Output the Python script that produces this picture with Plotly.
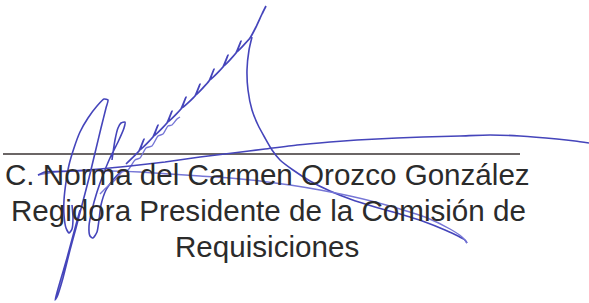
import plotly.graph_objects as go

# ---- data (pixel-space coordinates) ----
caption_lines = [
    "C. Norma del Carmen Orozco González",
    "Regidora Presidente de la Comisión de",
    "Requisiciones",
]
caption_y = [174.5, 210.0, 246.0]
caption_x = [267.0, 268.5, 266.5]

rule_x = [3, 520]
rule_y = [154, 154]

# big left loop with long descender
loop1_x = [80, 74, 67, 60, 55, 57, 63, 70, 76, 82, 89, 95, 101, 106, 108, 104, 97, 88, 80, 74, 69, 66, 64, 64, 66, 69, 72, 73, 72]
loop1_y = [210, 232, 258, 282, 300, 297, 278, 250, 228, 205, 178, 153, 128, 108, 100, 99, 106, 118, 132, 148, 165, 182, 200, 215, 228, 233, 229, 218, 205]

# second tall loop
loop2_x = [112, 115, 118, 121, 125, 124, 118, 110, 103, 97, 92, 89, 90, 93, 97, 99, 101, 106, 113, 122]
loop2_y = [160, 140, 128, 123, 122, 128, 142, 158, 175, 192, 210, 226, 236, 238, 232, 220, 205, 190, 180, 170]

# lower parallel stroke through the "ma" letters
ma_x = [100, 108, 115, 122, 128, 135, 140, 146, 152, 158, 163, 168, 172, 177, 180]
ma_y = [194, 186, 180, 172, 170, 160, 158, 148, 146, 136, 134, 126, 125, 119, 117]

# zig-zag diagonal stroke (compressed "uuuu")
zig_x = [266, 262, 256, 250,
         237, 241, 236, 224, 228, 223, 210, 214, 209, 196, 200, 195,
         182, 186, 181, 168, 172, 167, 154, 158, 153, 140, 144, 139, 126]
zig_y = [6, 14, 27, 38,
         52, 41, 53, 66, 55, 67, 80, 69, 81, 95, 84, 96,
         108, 97, 109, 122, 111, 123, 136, 125, 137, 150, 139, 151, 164]

# long sweeping curve down to the right
sweep_x = [252, 249, 247, 248, 252, 258, 265, 272, 280, 293, 310, 330, 350, 375, 400, 425, 445, 458, 465, 467]
sweep_y = [37, 50, 70, 90, 110, 125, 138, 150, 160, 170, 181, 191, 199, 207, 214, 222, 230, 236, 240, 243]

# lighter return branch back to the left
back_x = [467, 462, 450, 425, 400, 375, 350, 320, 290, 260, 230, 200, 170, 140, 110, 80, 55, 38]
back_y = [243, 237, 229, 217, 209, 202, 196, 190, 185, 181, 178, 176, 174, 172, 171, 171, 172, 175]

# long upper stroke to the right edge
upper_x = [38, 45, 70, 100, 130, 165, 200, 233, 265, 297, 330, 357, 397, 423, 460, 490, 520, 557, 575, 589]
upper_y = [175, 172, 171, 169, 166, 162, 157, 153, 149, 145, 142, 140, 138, 137, 136, 135, 136, 139, 141, 143]

ink_dark = "#4545bb"
ink_light = "#7676d6"

fig = go.Figure()

fig.add_trace(go.Scatter(x=rule_x, y=rule_y, mode="lines",
                         line=dict(color="#3a3333", width=1.6), hoverinfo="skip"))

for xs, ys, col, w, sm in [
    (loop1_x, loop1_y, ink_dark, 1.6, 0.6),
    (loop2_x, loop2_y, ink_dark, 1.6, 0.6),
    (ma_x, ma_y, ink_light, 1.4, 0.5),
    (zig_x, zig_y, ink_dark, 1.7, 0.3),
    (sweep_x, sweep_y, ink_dark, 1.6, 0.6),
    (back_x, back_y, ink_light, 1.4, 0.6),
    (upper_x, upper_y, ink_dark, 1.6, 0.6),
]:
    fig.add_trace(go.Scatter(x=xs, y=ys, mode="lines",
                             line=dict(color=col, width=w, shape="spline", smoothing=sm),
                             hoverinfo="skip"))

for txt, tx, ty in zip(caption_lines, caption_x, caption_y):
    fig.add_annotation(x=tx, y=ty, text=txt, showarrow=False,
                       xanchor="center", yanchor="middle",
                       font=dict(family="Liberation Sans, Arial, sans-serif",
                                 size=29.6, color="#2b2b2b"))

fig.update_layout(
    width=589, height=303,
    margin=dict(l=0, r=0, t=0, b=0),
    paper_bgcolor="white", plot_bgcolor="white",
    showlegend=False,
    xaxis=dict(range=[0, 589], visible=False, fixedrange=True),
    yaxis=dict(range=[303, 0], visible=False, fixedrange=True),
)

fig.write_html("out.html", config={"displayModeBar": False},
               post_script="document.body.style.margin='0';document.body.style.overflow='hidden';")
